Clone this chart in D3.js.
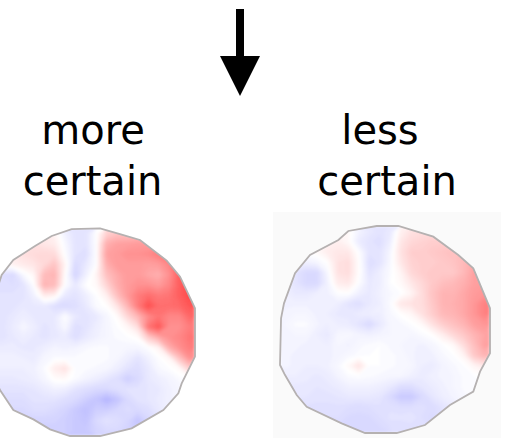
<!DOCTYPE html>
<html>
<head>
<meta charset="utf-8">
<style>
  html, body { margin: 0; padding: 0; background: #fff; overflow: hidden; }
  svg { display: block; }
  text { font-family: "DejaVu Sans", sans-serif; font-size: 40px; fill: #000; }
</style>
<script src="https://cdn.jsdelivr.net/npm/d3@7"></script>
</head>
<body>
<script>
// values, percent of full scale (neg = blue, pos = red)
const moreCertain = [
  [10,10,10,10,10,10,5,-5,-10,-10,0,18,24,24,24,24,24,24,24,24],
  [10,10,10,10,12,10,8,-2,-10,-10,0,32,37,38,40,40,40,46,46,46],
  [8,8,10,13,15,16,15,0,-10,-12,0,37,40,44,44,46,52,58,58,58],
  [-2,2,6,9,11,16,24,5,-14,-8,0,32,40,40,40,38,40,48,64,64],
  [-12,-12,-14,-2,4,27,30,2,-16,-5,5,25,34,40,40,35,32,44,64,64],
  [-12,-12,-12,-10,0,30,27,0,-8,0,3,17,32,40,44,44,40,48,64,70],
  [-10,-10,-10,-10,-5,8,6,-8,-10,-6,0,7,25,40,52,58,53,55,64,72],
  [-10,-10,-10,-8,-8,-8,-12,-14,-12,-8,-1,1,11,29,52,70,58,58,60,67],
  [-10,-10,-8,-6,-8,-8,-8,0,-8,-10,-8,-3,2,16,29,46,55,48,48,60],
  [-10,-10,-7,-3,-6,-10,-8,-2,-12,-10,-6,-3,0,4,14,55,67,44,44,52],
  [-10,-10,-8,-6,-8,-10,-8,-7,-12,-8,-5,-3,-1,0,2,21,34,44,48,55],
  [-7,-7,-7,-8,-8,-6,-4,-5,-4,-2,-1,-1,-3,-3,-3,0,6,32,44,52],
  [-5,-5,-5,-6,-7,-3,-1,-1,-1,0,0,-1,-3,-6,-10,-5,0,4,25,44],
  [-6,-6,-6,-6,-5,-1,8,12,0,-1,-2,-3,-6,-10,-12,-8,-2,0,3,20],
  [-8,-8,-8,-7,-6,-3,2,3,-1,-4,-6,-9,-12,-18,-14,-8,-6,-4,-1,0],
  [-10,-10,-10,-10,-9,-7,-5,-6,-10,-12,-14,-14,-12,-10,-10,-9,-8,-5,-3,-1],
  [-12,-12,-12,-12,-10,-10,-10,-12,-14,-18,-22,-28,-22,-14,-10,-9,-7,-5,-3,-2],
  [-14,-14,-14,-14,-12,-12,-14,-16,-20,-24,-18,-18,-15,-13,-14,-12,-8,-5,-3,-2],
  [-16,-16,-16,-16,-16,-16,-16,-18,-20,-22,-14,-10,-12,-15,-22,-15,-10,-5,-3,-2],
  [-18,-18,-18,-18,-18,-18,-18,-18,-20,-20,-16,-14,-14,-16,-20,-15,-10,-5,-3,-2]
];

const lessCertain = [
  [0,0,0,0,0,5,3,-4,-8,-10,-8,6,12,14,15,15,15,15,15,15],
  [3,3,3,5,6,7,3,-7,-10,-12,-6,10,16,18,20,20,22,25,25,25],
  [-2,-2,1,3,8,10,10,0,-10,-10,-3,12,20,20,22,24,25,27,27,27],
  [-5,-6,-5,-3,1,12,14,2,-12,-10,-2,10,18,20,20,22,24,28,35,35],
  [-6,-10,-14,-14,-3,12,14,2,-10,-6,-1,5,16,20,22,22,22,28,38,38],
  [-6,-10,-14,-14,-5,8,10,0,-8,-6,0,3,10,16,22,26,28,32,38,40],
  [-6,-8,-8,-6,-5,0,1,-5,-8,-5,-2,0,5,14,24,30,30,35,40,42],
  [-5,-5,-5,-5,-5,-6,-10,-12,-8,-6,-1,10,12,14,22,30,32,35,42,50],
  [-4,-3,-3,-5,-6,-8,-8,-7,-6,-6,-2,1,4,12,20,28,30,35,42,50],
  [-3,-1,-1,-4,-6,-6,-7,-10,-14,-8,-3,-2,0,3,12,20,25,30,38,42],
  [-4,-3,-3,-6,-8,-3,-2,-4,-5,-4,-3,-3,-3,-1,1,8,16,22,30,36],
  [-4,-4,-5,-6,-6,-3,-5,-2,-1,0,-2,-3,-4,-5,-3,0,3,14,26,38],
  [-4,-5,-6,-6,-5,-4,-2,-1,0,0,-1,-2,-4,-6,-5,-2,0,5,22,30],
  [-4,-5,-6,-6,-5,-2,3,12,0,0,-1,-2,-3,-6,-7,-4,-2,0,5,10],
  [-6,-6,-7,-8,-7,-4,-1,0,-1,-2,-3,-3,-5,-7,-5,-4,-3,-1,0,0],
  [-8,-8,-8,-9,-8,-7,-5,-5,-5,-6,-8,-12,-12,-9,-7,-5,-3,-1,-1,0],
  [-9,-9,-9,-10,-10,-9,-8,-8,-8,-9,-14,-20,-20,-14,-9,-6,-4,-2,-1,0],
  [-10,-10,-11,-11,-11,-11,-12,-13,-12,-11,-11,-12,-12,-11,-13,-10,-7,-4,-2,-1],
  [-12,-12,-12,-12,-12,-12,-14,-14,-14,-12,-10,-10,-9,-12,-14,-10,-7,-4,-2,-1],
  [-14,-14,-14,-14,-14,-14,-14,-14,-14,-14,-12,-12,-12,-12,-12,-10,-7,-4,-2,-1]
];

// sensor outlines in grid units
const moreOutline = [
  [0,8.85],[0.3,13.3],[1.25,15.58],[2.53,17.5],[4.46,18.4],[6.06,19.36],[7.98,20],[10.87,20],
  [13.91,19.26],[16.96,17.5],[18.4,15.9],[18.72,14.94],[20,12.37],[20,7.72],[18.56,4.68],
  [17.28,3.14],[14.71,1.15],[12.79,0.58],[10.87,0.03],[8.14,0.1],[6.22,0.77],[4.62,1.73],
  [2.53,3.08],[1.41,4.52]
];

const lessOutline = [
  [0.1,8.92],[0,13.43],[0.48,14.4],[1.59,16.33],[2.54,17.46],[5.87,19.07],[8.1,20],[11.11,20],
  [13.81,19.23],[16.19,17.29],[18.41,16],[19.05,14.07],[20,12.3],[20,7.95],[18.41,4.09],
  [16.98,2.8],[14.6,1.03],[11.27,0],[9.21,0],[6.51,0.48],[5.56,1.35],[2.86,2.8],[1.43,4.57],
  [0.38,7.47]
];

const labels = [
  { lines: ["more", "certain"], x: [93, 92.5] },
  { lines: ["less", "certain"], x: [380, 387] }
];

const width = 513, height = 438;
const gridSize = 20;

const svg = d3.select("body").append("svg")
  .attr("width", width)
  .attr("height", height);

// ---------------- colours ----------------
const color = d3.scaleLinear()
  .domain([-100, 0, 100])
  .range(["#0000ff", "#ffffff", "#ff0000"]);

const thresholds = d3.range(-30, 76, 1.5);

const defs = svg.append("defs");
defs.append("filter")
  .attr("id", "soft")
  .attr("x", "-5%").attr("y", "-5%")
  .attr("width", "110%").attr("height", "110%")
  .append("feGaussianBlur")
  .attr("stdDeviation", 1.6);

// the reference outline is a bit fuzzy from upscaling
defs.append("filter")
  .attr("id", "fuzzy")
  .attr("x", "-5%").attr("y", "-5%")
  .attr("width", "110%").attr("height", "110%")
  .append("feGaussianBlur")
  .attr("stdDeviation", 0.5);

// ---------------- panel behind the right map ----------------
svg.append("rect")
  .attr("x", 273).attr("y", 212)
  .attr("width", 228).attr("height", 226)
  .attr("fill", "#fafafa");

// ---------------- maps ----------------
function drawMap(id, values, outline, xRange, yRange) {
  const x = d3.scaleLinear().domain([0, gridSize]).range(xRange);
  const y = d3.scaleLinear().domain([0, gridSize]).range(yRange);

  const project = d3.geoPath(d3.geoTransform({
    point(px, py) { this.stream.point(x(px), y(py)); }
  }));

  const outlinePath = d3.line().x(d => x(d[0])).y(d => y(d[1])).curve(d3.curveLinearClosed)(outline);

  defs.append("clipPath").attr("id", id)
    .append("path").attr("d", outlinePath);

  const contours = d3.contours()
    .size([gridSize, gridSize])
    .thresholds(thresholds)(values.flat());

  const g = svg.append("g").attr("clip-path", `url(#${id})`);

  g.append("path").attr("d", outlinePath).attr("fill", "#fff");

  g.append("g")
    .attr("filter", "url(#soft)")
    .selectAll("path")
    .data(contours)
    .join("path")
    .attr("d", project)
    .attr("fill", d => color(d.value));

  svg.append("path")
    .attr("d", outlinePath)
    .attr("fill", "none")
    .attr("stroke", "#b5b1b1")
    .attr("stroke-width", 1.8)
    .attr("filter", "url(#fuzzy)");
}

drawMap("clip-more", moreCertain, moreOutline, [-13, 195], [228, 436]);
drawMap("clip-less", lessCertain, lessOutline, [280, 490], [226, 433]);

// ---------------- labels ----------------
labels.forEach(label => {
  label.lines.forEach((line, i) => {
    svg.append("text")
      .attr("x", label.x[i])
      .attr("y", i === 0 ? 143.5 : 195)
      .attr("text-anchor", "middle")
      .text(line);
  });
});

// ---------------- arrow ----------------
svg.append("rect")
  .attr("x", 236).attr("y", 9)
  .attr("width", 8).attr("height", 48)
  .attr("fill", "#000");

svg.append("path")
  .attr("d", "M220,56 L260,56 L240,96 Z")
  .attr("fill", "#000");
</script>
</body>
</html>
